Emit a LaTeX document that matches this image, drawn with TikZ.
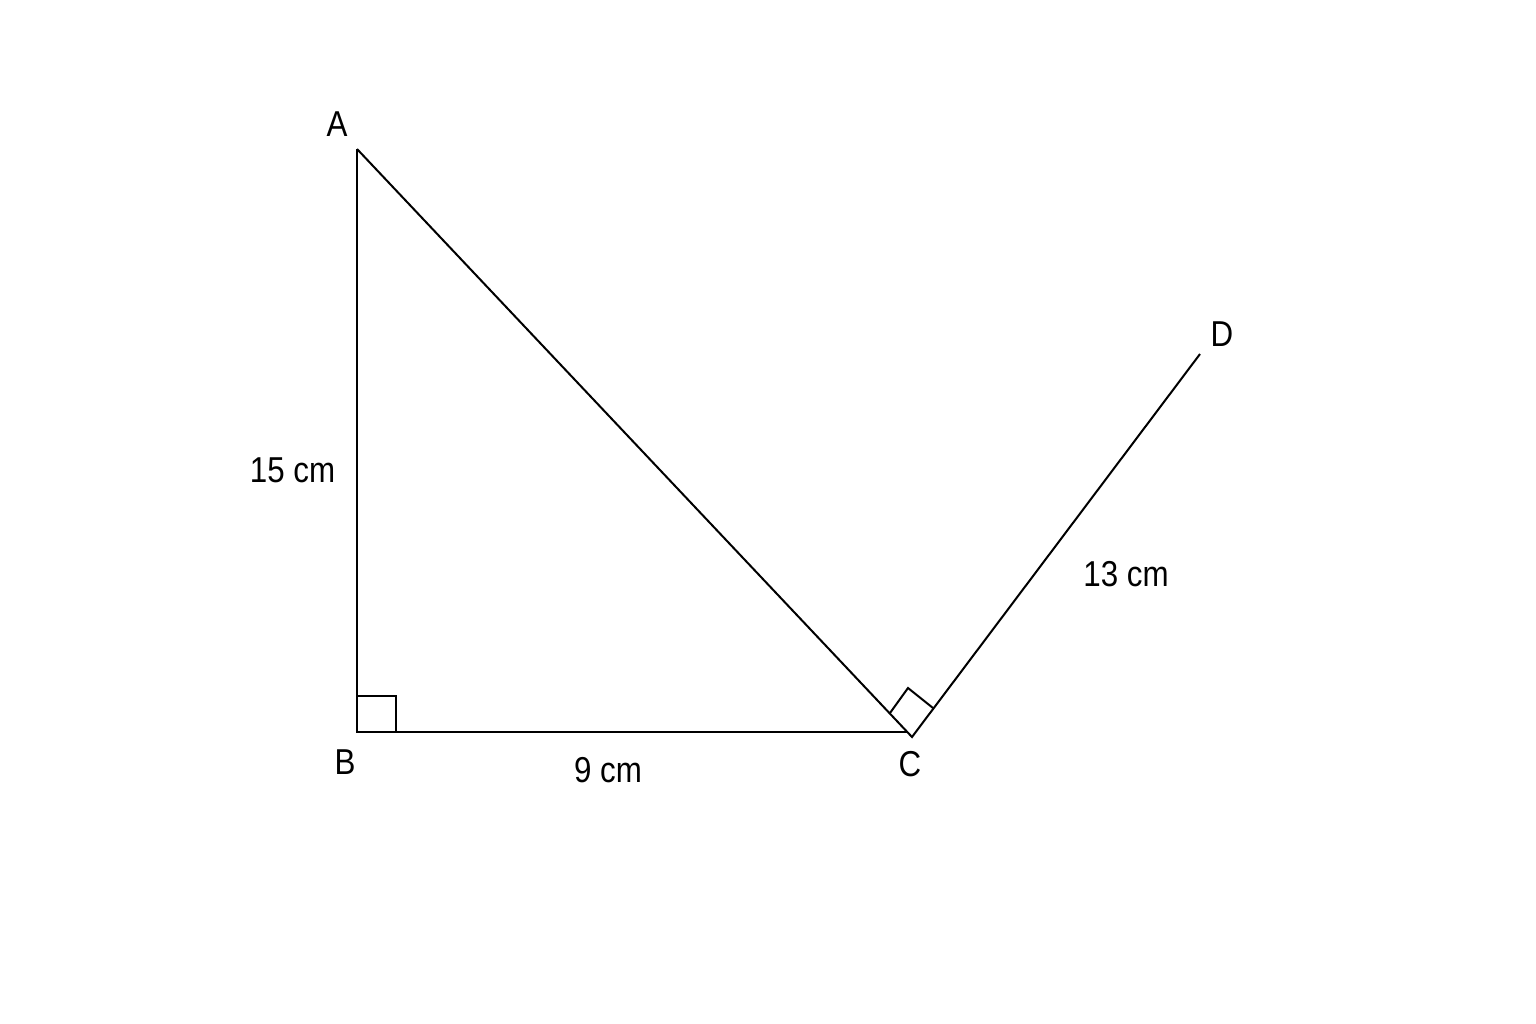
\documentclass[tikz,border=0pt]{standalone}
\usepackage{fontspec}
\newfontfamily\labfont[FakeStretch=0.87]{Liberation Sans}
\begin{document}
\begin{tikzpicture}[x=1pt,y=-1pt,
  edge/.style={line width=2pt,line join=miter,line cap=butt},
  anglemark/.style={line width=2pt},
  lab/.style={font=\labfont\fontsize{36}{36}\selectfont,inner sep=0pt,anchor=center}]
\useasboundingbox[fill=white] (0,0) rectangle (1536,1024);
\coordinate (A) at (357,149);
\coordinate (B) at (357,732);
\coordinate (C) at (912,737);
\coordinate (D) at (1200,354);
\coordinate (Cb) at (907,732);
% triangle
\draw[edge] (A) -- (B) -- (Cb);
\draw[edge] (A) -- (C) -- (D);
% right angle at B
\draw[anglemark] (357,696) -- (396,696) -- (396,732);
% right angle at C
\draw[anglemark] (890,713) -- (908,688) -- (933,708);
% labels
\node[lab] (lA) at (337,124) {A};
\node[lab] (lB) at (345,762) {B};
\node[lab] (lC) at (910,764) {C};
\node[lab] (lD) at (1222,334) {D};
\node[lab] (l15) at (292.5,470) {15 cm};
\node[lab] (l9) at (608,770) {9 cm};
\node[lab] (l13) at (1126,574) {13 cm};
\end{tikzpicture}
\end{document}
